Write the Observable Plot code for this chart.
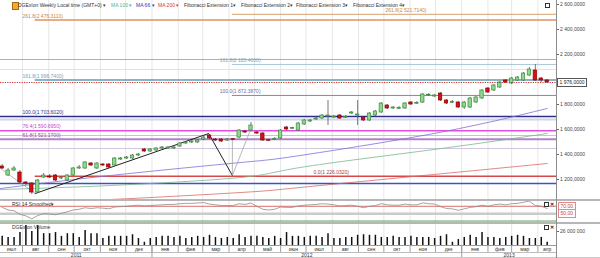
<!DOCTYPE html>
<html>
<head>
<meta charset="utf-8">
<script src="https://cdn.jsdelivr.net/npm/d3@7"></script>
<script src="https://cdn.jsdelivr.net/npm/@observablehq/plot@0.6"></script>
<style>
  html,body{margin:0;padding:0;background:#fff;}
  #wrap{position:relative;width:600px;height:258px;overflow:hidden;background:#fff;font-family:"Liberation Sans",Arial,sans-serif;}
  .pnl{position:absolute;left:0;}
  .t{position:absolute;font-size:5px;line-height:6px;white-space:nowrap;color:#333;}
  .sep{position:absolute;left:0;width:600px;}
  .ico{position:absolute;width:3px;height:3px;border:0.8px solid #333;background:#fff;}
  .x{position:absolute;font-size:4.6px;line-height:5px;font-weight:bold;color:#222;}
  .tag{position:absolute;height:7px;line-height:7px;font-size:5px;padding:0 1.5px;background:#fff;white-space:nowrap;}
</style>
</head>
<body>
<div id="wrap"></div>
<script>
// ---------------- DATA ----------------
const firstWeek = "2011-07-08";
const lastWeek = "2013-04-12";
const openP = [1304,1232,1272,1256,1176,1168,1096,1216,1224,1232,
  1208,1192,1232,1288,1288,1328,1288,1320,1320,1312,
  1360,1368,1368,1392,1440,1424,1432,1448,1448,1448,
  1464,1488,1496,1496,1520,1552,1520,1520,1512,1522,
  1536,1584,1592,1576,1568,1514,1518,1528,1616,1606,
  1592,1640,1664,1680,1688,1704,1696,1712,1694,1728,
  1712,1696,1672,1712,1736,1792,1768,1766,1768,1816,
  1806,1816,1872,1864,1888,1832,1814,1816,1776,1776,
  1816,1848,1928,1912,1936,1992,1968,1992,1992,2032,
  2072,2008,1992];
const closeP = [1288,1272,1288,1176,1168,1096,1192,1232,1216,1192,
  1216,1232,1288,1296,1336,1312,1328,1312,1296,1368,
  1368,1376,1392,1400,1424,1440,1448,1456,1456,1456,
  1488,1496,1504,1512,1536,1528,1512,1504,1520,1518,
  1592,1576,1632,1568,1512,1510,1524,1592,1600,1612,
  1648,1672,1672,1688,1712,1712,1704,1688,1700,1736,
  1720,1672,1728,1744,1808,1768,1776,1772,1808,1800,
  1812,1880,1878,1872,1832,1808,1820,1776,1816,1848,
  1856,1912,1896,1952,1976,1976,2008,2016,2048,2080,
  1992,1992,1976];
const highP = [1320,1288,1304,1272,1184,1176,1200,1248,1240,1240,
  1224,1240,1296,1312,1344,1336,1336,1328,1328,1376,
  1376,1384,1400,1408,1448,1448,1456,1464,1464,1464,
  1496,1504,1512,1520,1544,1560,1528,1528,1528,1528,
  1600,1592,1656,1584,1576,1520,1536,1600,1624,1618,
  1656,1680,1680,1696,1720,1832,1712,1720,1712,1744,
  1832,1704,1736,1752,1816,1800,1784,1784,1816,1824,
  1824,1888,1888,1880,1896,1840,1832,1824,1824,1856,
  1864,1920,1936,1960,1984,2000,2016,2024,2056,2096,
  2120,2016,2000];
const lowP = [1280,1224,1264,1168,1152,1080,1088,1208,1208,1184,
  1200,1184,1224,1280,1280,1304,1280,1304,1288,1304,
  1352,1360,1360,1384,1416,1416,1424,1440,1440,1440,
  1456,1480,1488,1488,1512,1520,1504,1496,1504,1512,
  1528,1568,1584,1560,1504,1504,1512,1520,1592,1600,
  1584,1632,1656,1672,1680,1632,1688,1680,1688,1720,
  1632,1664,1664,1704,1728,1760,1760,1760,1760,1792,
  1800,1808,1864,1856,1824,1800,1808,1768,1760,1768,
  1808,1840,1888,1904,1928,1968,1960,1984,1984,2024,
  1984,1976,1968];
// volume, millions
const volume = [17,15,15,24,37,26,37,22,22,24,17,22,22,15,28,22,22,13,17,17,
  17,17,20,13,6,13,15,17,17,15,17,13,15,17,15,19,15,13,15,13,
  20,15,17,17,15,13,17,13,24,17,17,
  15,17,17,15,22,13,13,15,15,19,20,19,19,15,15,17,15,15,17,15,
  15,15,13,17,20,6,11,15,19,15,24,15,15,13,15,17,19,17,13,13,15,6];
const rsi14 = [67,60,58,48,44,36,45,50,49,47,
  51,55,60,62,66,64,66,65,63,68,
  69,70,72,73,71,72,73,74,75,75,
  77,78,78,79,80,76,74,72,72,72,
  77,75,79,70,62,60,62,68,67,67,
  71,73,74,75,77,76,74,71,72,73,
  70,66,70,72,77,74,73,73,76,74,
  74,79,77,76,69,64,63,59,63,67,
  69,73,70,74,76,74,77,78,81,84,
  72,70,64];
const lastPrice = 1976;

// moving averages
const maDates = ["2011-07-06","2011-11-13","2012-04-15","2012-06-24","2012-11-29","2013-04-12"];
const ma66 = [1128,1232,1336,1392,1568,1768];
const ma100 = [1120,1152,1216,1296,1440,1568];
const ma200 = [1008,1040,1096,1136,1240,1328];

// fibonacci extension levels
const fibValues = [2521.714, 2476.311, 2120.4, 1996.74, 1872.387, 1703.602, 1590.695, 1521.17, 1226.032];
const fibLabels = ["261.8(2 521.7140)","261.8(2 476.3110)","161.8(2 120.4000)","161.8(1 996.7400)",
  "100.0(1 872.3870)","100.0(1 703.6020)","76.4(1 590.6950)","61.8(1 521.1700)","0.0(1 226.0320)"];
const fibStart = ["2012-04-05","2011-08-16","2012-04-05","2011-08-16","2012-04-05",null,null,null,"2011-08-16"];
const fibLabelDate = ["2012-10-03","2011-08-01","2012-03-21","2011-08-01","2012-03-21","2011-08-01","2011-08-01","2011-08-01","2012-07-10"];
const otherLevels = [2160, 2080, 1680, 1552, 1448, 1168];

// drawing (extension anchor) points
const drawDates = ["2011-07-06","2011-08-16","2012-03-08","2012-04-05","2012-04-27"];
const drawValues = [1288, 1088, 1568, 1232, 1608];

// tick labels
const priceTicks = [1200,1400,1600,1800,2200,2400,2600];
const volTicks = [26];
const rsiTags = [70, 50];
const monthNames = ["июл","авг","сен","окт","ноя","дек","янв","фев","мар","апр","май","июн",
  "июл","авг","сен","окт","ноя","дек","янв","фев","мар","апр"];
const yearNames = ["2011","2012","2013"];

// ---------------- BUILD ----------------
const D = s => new Date(s);
const xDomain = [D("2011-07-06"), D("2013-04-23")];
const weeks = d3.utcFriday.range(D(firstWeek), d3.utcDay.offset(D(lastWeek), 1));
const candles = weeks.map((d, i) => ({date: d, open: openP[i], high: highP[i], low: lowP[i], close: closeP[i], vol: volume[i], rsi: rsi14[i]}));
const half = 2 * 24 * 3600 * 1000;
const monthStarts = d3.utcMonth.range(D("2011-07-01"), D("2013-05-01"));
const gridMonths = monthStarts.filter(d => d > xDomain[0]);
const monthData = monthStarts.map((d, i) => {
  const a = Math.max(+d, +xDomain[0]);
  const b = Math.min(+(monthStarts[i + 1] || d3.utcMonth.offset(d, 1)), +xDomain[1]);
  return {mid: new Date((a + b) / 2), label: monthNames[i]};
});
const yearBounds = [xDomain[0], D("2012-01-01"), D("2013-01-01"), xDomain[1]];
const yearData = yearNames.map((y, i) => ({mid: new Date((+yearBounds[i] + +yearBounds[i + 1]) / 2), label: y}));
const mkMA = vals => maDates.map((d, i) => ({date: D(d), value: vals[i]}));
const drawPts = drawDates.map((d, i) => ({date: D(d), value: drawValues[i]}));

const loc = d3.formatLocale({decimal: ",", thousands: " ", grouping: [3], currency: ["", ""]});
const fmtPrice = loc.format(",.4f");
const fmtVol = loc.format(",d");

// styles
const fibColors = ["#d9a06c","#e0925c","#a9c6d6","#5e9db2","#8585b5","#2e2e88","#e04ce0","#b080c8","#d84848"];
const fibWidths = [1,1.5,1,1.5,1,1.5,1.5,2,1.5];
const fibText = ["#c8864a","#c8864a","#8aa4b4","#7aa0b8","#7070a0","#303080","#cc40cc","#8a509a","#b04040"];
const otherColors = ["#e4a070","#d6e4ec","#cfd6ec","#b4d4b4","#d2c6de","#3f4fc4"];
const otherWidths = [1,1,2,1,1,1.5];

const common = {
  width: 600, marginLeft: 0, marginRight: 44, marginTop: 0, marginBottom: 0,
  x: {type: "utc", domain: xDomain, axis: null},
  style: {fontFamily: "Liberation Sans, Arial, sans-serif", fontSize: "5px", background: "transparent"}
};

const main = Plot.plot({
  ...common, height: 199,
  y: {domain: [1040, 2632]},
  marks: [
    Plot.ruleX(gridMonths, {stroke: "#e6e6e6"}),
    ...otherLevels.map((v, i) => Plot.ruleY([v], {stroke: otherColors[i], strokeWidth: otherWidths[i]})),
    ...fibValues.map((v, i) => Plot.ruleY([v], {
      x1: () => fibStart[i] ? D(fibStart[i]) : xDomain[0], x2: () => xDomain[1],
      stroke: fibColors[i], strokeWidth: fibWidths[i]})),
    Plot.line(mkMA(ma200), {x: "date", y: "value", stroke: "#d86a6a", strokeWidth: 0.8, curve: "natural"}),
    Plot.line(mkMA(ma100), {x: "date", y: "value", stroke: "#78b890", strokeWidth: 0.8, curve: "natural"}),
    Plot.line(mkMA(ma66), {x: "date", y: "value", stroke: "#7c70d8", strokeWidth: 0.8, curve: "natural"}),
    Plot.line(drawPts.slice(0, 2), {x: "date", y: "value", stroke: "#999", strokeWidth: 0.7}),
    Plot.line(drawPts.slice(1, 4), {x: "date", y: "value", stroke: "#222", strokeWidth: 1}),
    Plot.line(drawPts.slice(3, 5), {x: "date", y: "value", stroke: "#999", strokeWidth: 0.7}),
    Plot.ruleX([drawPts[3]], {x: "date", y1: 1512, y2: "value", stroke: "#999", strokeWidth: 0.7}),
    Plot.ruleX(candles, {x: "date", y1: "low", y2: "high", stroke: "#555", strokeWidth: 0.8}),
    Plot.rect(candles, {filter: d => d.close >= d.open, x1: d => new Date(+d.date - half), x2: d => new Date(+d.date + half),
      y1: "open", y2: "close", fill: "#8fd88f", stroke: "#3a8a3a", strokeWidth: 0.7}),
    Plot.rect(candles, {filter: d => d.close < d.open, x1: d => new Date(+d.date - half), x2: d => new Date(+d.date + half),
      y1: "open", y2: "close", fill: "#d01414", stroke: "#8a0000", strokeWidth: 0.7}),
    Plot.ruleY([lastPrice], {stroke: "#c83232", strokeWidth: 1, strokeDasharray: "1.2,1.2"}),
    ...fibValues.map((v, i) => Plot.text([v], {x: () => D(fibLabelDate[i]), y: d => d, text: () => fibLabels[i],
      textAnchor: "start", dy: -4, fill: fibText[i], fontSize: 5})),
    Plot.axisY(priceTicks, {anchor: "right", tickFormat: fmtPrice, tickSize: 2, tickPadding: 1.5, fill: "#444", stroke: "#666", fontSize: 5, label: null})
  ]
});

const rsiPlot = Plot.plot({
  ...common, height: 21,
  y: {domain: [26, 83], axis: null},
  marks: [
    Plot.ruleX(gridMonths, {stroke: "#e6e6e6"}),
    Plot.ruleY([50], {stroke: "#cacaca", strokeWidth: 2.5}),
    Plot.ruleY([70], {stroke: "#d85c5c", strokeWidth: 0.9}),
    Plot.ruleY([30], {stroke: "#3c9c3c", strokeWidth: 0.9}),
    Plot.line(candles, {x: "date", y: "rsi", stroke: "#8c8c8c", strokeWidth: 0.8})
  ]
});

const volPlot = Plot.plot({
  ...common, height: 21,
  y: {domain: [0, 39]},
  marks: [
    Plot.ruleX(gridMonths, {stroke: "#e6e6e6"}),
    Plot.ruleX(candles, {x: "date", y1: 0, y2: "vol", stroke: "#111", strokeWidth: 1.5}),
    Plot.axisY(volTicks, {anchor: "right", tickFormat: d => fmtVol(d * 1e6), tickSize: 2, tickPadding: 1.5, fill: "#444", stroke: "#666", fontSize: 5, label: null})
  ]
});

const axisPlot = Plot.plot({
  ...common, height: 13,
  y: {domain: [0, 13], axis: null},
  marks: [
    Plot.ruleY([6], {stroke: "#bdbdbd"}),
    Plot.ruleX(gridMonths, {y1: 6, y2: 13, stroke: "#a0a0a0"}),
    Plot.ruleX(yearBounds.slice(1, 3), {y1: 0, y2: 13, stroke: "#a0a0a0"}),
    Plot.text(monthData, {x: "mid", y: 9.5, text: "label", fill: "#333", fontSize: 5}),
    Plot.text(yearData, {x: "mid", y: 3, text: "label", fill: "#333", fontSize: 5})
  ]
});

const wrap = document.getElementById("wrap");
const TOP = {main: 0, rsi: 201, vol: 224, axis: 245};
function place(node, top) {
  const d = document.createElement("div");
  d.className = "pnl"; d.style.top = top + "px";
  d.appendChild(node); wrap.appendChild(d);
}
place(main, TOP.main);
place(rsiPlot, TOP.rsi);
place(volPlot, TOP.vol);
place(axisPlot, TOP.axis);

function el(cls, css, text) {
  const e = document.createElement("div");
  e.className = cls; e.style.cssText = css;
  if (text != null) e.textContent = text;
  wrap.appendChild(e); return e;
}
// separators & borders
el("sep", "top:199px;height:2px;background:#b6b6b6;");
el("sep", "top:222px;height:2px;background:#b6b6b6;");
el("sep", "top:245px;height:1px;background:#9a9a9a;width:556px;");
el("sep", "top:257px;height:1px;background:#c8c8c8;");
el("sep", "top:0;left:556px;width:1px;height:258px;background:#8c8c8c;");

// value tags positioned through the plots' own y scales
const yMain = main.scale("y");
const yRsi = rsiPlot.scale("y");
el("tag", `left:557px;top:${TOP.main + yMain.apply(lastPrice) - 4}px;border:0.8px solid #555;color:#222;`, fmtPrice(lastPrice));
rsiTags.forEach(v => el("tag", `left:558px;top:${TOP.rsi + yRsi.apply(v) - 4}px;border:0.8px solid #e08a8a;color:#c83c3c;`, v.toFixed(2)));

// header
el("", "position:absolute;left:12px;top:2px;width:5px;height:6px;background:#f0aa30;border:0.5px solid #a86a10;");
el("t", "left:18px;top:2px;", "DGExIon Weekly Local time (GMT+0) ▾");
el("t", "left:111px;top:2px;color:#4fb08a;", "MA 100 ▾");
el("t", "left:136px;top:2px;color:#3030b8;", "MA 66 ▾");
el("t", "left:158px;top:2px;color:#d83030;", "MA 200 ▾");
el("t", "left:184px;top:2px;", "Fibonacci Extension 1▾");
el("t", "left:241px;top:2px;", "Fibonacci Extension 2▾");
el("t", "left:296px;top:2px;", "Fibonacci Extension 3▾");
el("t", "left:353px;top:2px;", "Fibonacci Extension 4▾");
el("ico", "left:545px;top:3px;");
// sub-panel headers
el("t", "left:12px;top:201px;", "RSI 14 Smoothed▾");
el("ico", "left:544px;top:202px;");
el("x", "left:550px;top:201.5px;", "✕");
el("t", "left:12px;top:224px;", "DGExIon Volume");
el("ico", "left:544px;top:225px;");
el("x", "left:550px;top:224.5px;", "✕");
</script>
</body>
</html>
